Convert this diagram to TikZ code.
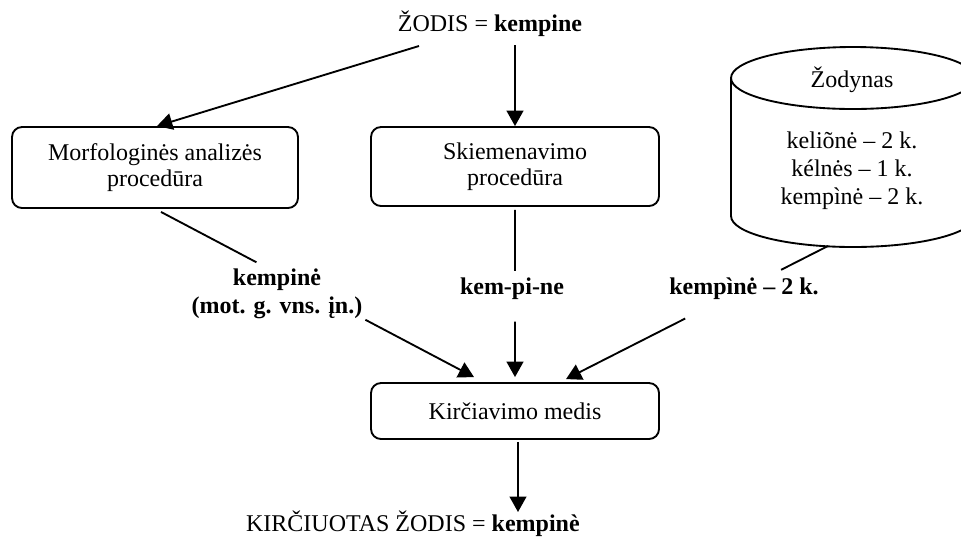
\documentclass[tikz,border=0pt]{standalone}
\usepackage{fontspec}
\setmainfont{Liberation Serif}
\usetikzlibrary{arrows.meta,calc}
\tikzset{
  conn/.style={line width=1.4pt},
  arr/.style={conn,-{Triangle[length=11.5pt,width=12.5pt]}},
  procbox/.style={draw,line width=1.4pt,rounded corners=7.5pt,align=center,font=\fontsize{18}{19.5}\selectfont,inner sep=0pt},
  lab/.style={font=\fontsize{18}{21}\selectfont\bfseries,inner sep=0pt},
  plain/.style={font=\fontsize{18}{21}\selectfont,inner sep=0pt},
  cyl/.style={line width=1.4pt},
}
\begin{document}
\begin{tikzpicture}[x=0.75pt,y=-0.75pt]
\useasboundingbox (0,0) rectangle (961,537);
\node[plain,anchor=base] (word) at (490,31) {ŽODIS = \textbf{kempine}};
\node[procbox,minimum width=214.5pt,minimum height=60.75pt] (morf) at (155,167.5) {Morfologinės analizės\\procedūra};
\node[procbox,minimum width=216pt,minimum height=59.25pt] (skiem) at (515,166.5) {Skiemenavimo\\procedūra};
\node[procbox,minimum width=216pt,minimum height=42pt] (kirc) at (515,411) {Kirčiavimo medis};
% dictionary cylinder
\draw[cyl] (853,78) ellipse[x radius=91.5pt,y radius=23.25pt];
\draw[cyl] (731,78) -- (731,216) arc[start angle=180,end angle=360,x radius=91.5pt,y radius=23.25pt] -- (975,78);
\node[plain,anchor=base] (dict) at (852,87) {Žodynas};
\node[plain,align=center] (dictx) at (852,170.4) {keliõnė – 2 k.\\kélnės – 1 k.\\kempìnė – 2 k.};
\coordinate (cylbot) at (828,246);
% labels
\node[lab,align=center] (l1) at (277,293.5) {kempinė\\(mot. g. vns. įn.)};
\node[lab,anchor=base] (l2) at (512,294) {kem-pi-ne};
\node[lab,anchor=base west] (l3) at (669,294) {kempìnė – 2 k.};
\node[plain,anchor=base east] (res) at (580,531) {KIRČIUOTAS ŽODIS = \textbf{kempinè}};
% connectors
\draw[arr] ([shift={(-71,15)}]word.base) -- ([shift={(2,0)}]morf.north);
\draw[arr] ([shift={(25,14)}]word.base) -- (skiem.north);
\coordinate (a3s) at ([shift={(6,3)}]morf.south);
\coordinate (a3e) at ([shift={(-41,-5)}]kirc.north);
\draw[conn] (a3s) -- ($(a3s)!0.305!(a3e)$);
\draw[arr] ($(a3s)!0.653!(a3e)$) -- (a3e);
\coordinate (a4s) at ([shift={(0,3)}]skiem.south);
\coordinate (a4e) at ([shift={(0,-5)}]kirc.north);
\draw[conn] (a4s) -- ($(a4s)!0.365!(a4e)$);
\draw[arr] ($(a4s)!0.668!(a4e)$) -- (a4e);
\coordinate (a5e) at ([shift={(51,-3)}]kirc.north);
\draw[conn] (cylbot) -- ($(cylbot)!0.179!(a5e)$);
\draw[arr] ($(cylbot)!0.545!(a5e)$) -- (a5e);
\draw[arr] ([shift={(3,2)}]kirc.south) -- ([shift={(-62,-19)}]res.base east);
\end{tikzpicture}
\end{document}
